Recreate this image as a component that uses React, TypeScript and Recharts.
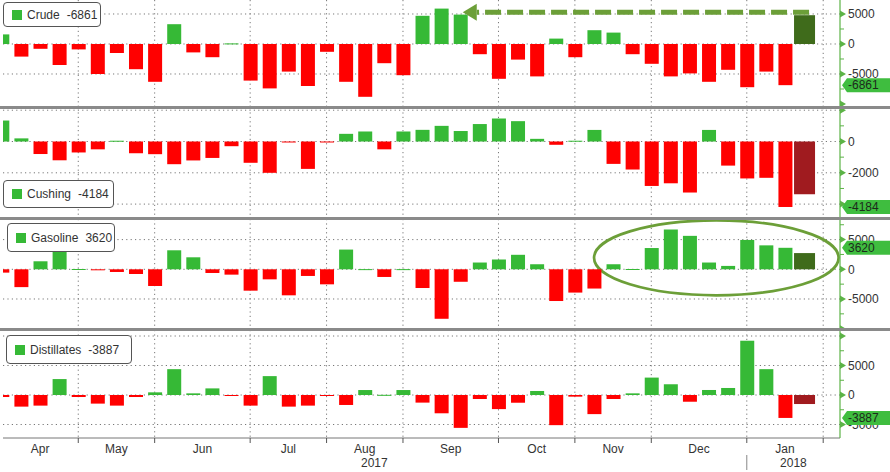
import React from "react";
import {
  BarChart,
  Bar,
  XAxis,
  YAxis,
  CartesianGrid,
  ReferenceLine,
  ReferenceArea,
} from "recharts";

// ---------------- data (weekly change, thousand barrels) ----------------
const crude = [
  1600, -2100, -800, -3500, -900, -5000, -1500, -4200, -6300, 3300, -1400, -2200, 100, -6100,
  -7400, -4600, -7000, -1300, -6300, -8800, -3200, -5200, 4700, 5900, 4900, -1700, -5800,
  -2600, -5400, 900, -2200, 2300, 1900, -1700, -3300, -5400, -4900, -6300, -4300, -7200,
  -4600, -6861,
];
const crudeLatest = 4800;

const cushing = [
  1340, 200, -800, -1200, -700, -500, 50, -750, -810, -1450, -1210, -1050, -300, -1360, -2000,
  -50, -1750, -50, 490, 640, -500, 640, 745, 1000, 670, 1115, 1470, 1300, 170, -210, 50, 740,
  -1430, -1790, -2840, -2670, -3260, 740, -1540, -2360, -2320, -4184,
];
const cushingLatest = -3370;

const gasoline = [
  -560, -3000, 1350, 3000, 50, -100, -450, -790, -2810, 3200, 2020, -620, -900, -3600, -1690,
  -4380, -1120, -2530, 3320, 30, -1290, 30, -3150, -8330, -2100, 1140, 1650, 2440, 850, -5340,
  -3920, -3240, 850, 50, 3580, 6700, 5630, 1140, 570, 4940, 4030, 3620,
];
const gasolineLatest = 2730;

const distillates = [
  -340, -1970, -1800, 2700, -340, -1460, -1800, -340, 450, 4380, 280, 1120, -50, -1800, 3200,
  -1970, -1800, -50, -1690, 840, 30, 840, -1290, -3100, -5570, -680, -2390, -1310, 680, -5110,
  -280, -3240, -680, 280, 2950, 1820, -1140, 850, 1190, 9200, 4380, -3887,
];
const distillatesLatest = -1530;

// x axis: week index where each month / year begins
const monthLabels = ["Apr", "May", "Jun", "Jul", "Aug", "Sep", "Oct", "Nov", "Dec", "Jan"];
const monthBoundaries = [0, 4, 8, 13, 17, 21, 26, 30, 34, 39, 43];
const yearLabels = ["2017", "2018"];
const yearStarts = [0, 39];

// ---------------- styling ----------------
const GREEN = "#36b936";
const RED = "#ff0000";
const DARK_GREEN = "#3f6b1b";
const DARK_RED = "#a01b1f";
const AXIS_GREEN = "#5cb346";
const TAG_GREEN = "#3fbd3f";
const ANNOT_GREEN = "#6c9f38";
const X_DOMAIN: [number, number] = [0.06, 43.88];

type Row = { i: number; v: number; latest: boolean };
const buildRows = (hist: number[], latest: number): Row[] => [
  ...hist.map((v, i) => ({ i, v, latest: false })),
  { i: hist.length, v: latest, latest: true },
];

const gridBoundaries = monthBoundaries.slice(1);
const monthMids = monthLabels.map((_, k) => (monthBoundaries[k] + monthBoundaries[k + 1]) / 2);
const yearMids = yearLabels.map((_, k) =>
  (yearStarts[k] + (k + 1 < yearStarts.length ? yearStarts[k + 1] : X_DOMAIN[1])) / 2
);

const BarShape = (p: any) => {
  const { x, y, width, height, payload } = p;
  if (x == null || y == null) return null;
  const v = payload.v;
  const fill = payload.latest ? (v >= 0 ? DARK_GREEN : DARK_RED) : v >= 0 ? GREEN : RED;
  const w = payload.latest ? width * 1.5 : width;
  const top = Math.min(y, y + height);
  const h = Math.max(Math.abs(height), 1);
  return <rect x={x + width / 2 - w / 2} y={top} width={w} height={h} fill={fill} />;
};

// y-axis tick: triangle + label for majors, short line for minors, value tag for the latest reading
const makeYTick = (labeled: number[], minor: number[], tagValue: number) => (props: any) => {
  const { x, y, payload, index } = props;
  const v = payload.value;
  if (v === tagValue && index === props.visibleTicksCount - 1) {
    return (
      <g>
        <path
          d={`M${x + 2},${y} L${x + 7},${y - 7} H${x + 52} V${y + 7} H${x + 7} Z`}
          fill={TAG_GREEN}
        />
        <text x={x + 8} y={y} dy="0.36em" fontSize={12} fill="#1c2a1c">
          {String(v)}
        </text>
      </g>
    );
  }
  if (minor.includes(v)) {
    return <line x1={x} x2={x + 4} y1={y} y2={y} stroke={AXIS_GREEN} strokeWidth={1} />;
  }
  return (
    <g>
      <path d={`M${x},${y - 3.5} L${x + 6},${y} L${x},${y + 3.5} Z`} fill={AXIS_GREEN} />
      {labeled.includes(v) && (
        <text x={x + 8} y={y} dy="0.36em" fontSize={12} fill="#333">
          {String(v)}
        </text>
      )}
    </g>
  );
};

const XTick = (props: any) => {
  const { x, y, payload } = props;
  const v = payload.value;
  const mi = monthMids.indexOf(v);
  if (mi >= 0) {
    return (
      <text x={x} y={y + 11} dy="0.36em" textAnchor="middle" fontSize={12} fill="#333">
        {monthLabels[mi]}
      </text>
    );
  }
  const yi = yearMids.indexOf(v);
  if (yi >= 0) {
    return (
      <text x={x} y={y + 25} dy="0.36em" textAnchor="middle" fontSize={12} fill="#333">
        {yearLabels[yi]}
      </text>
    );
  }
  const isYear = yearStarts.includes(v);
  return (
    <g>
      <line x1={x} x2={x} y1={y} y2={y + 5} stroke="#555" />
      {isYear && <line x1={x} x2={x} y1={y + 17} y2={y + 32} stroke="#888" />}
    </g>
  );
};

const ArrowShape = (p: any) => {
  const { x1, y1, x2, y2 } = p;
  if (x1 == null) return null;
  const head = 14;
  return (
    <g>
      <path
        d={`M${x1},${y1} L${x2 + head},${y2}`}
        stroke={ANNOT_GREEN}
        strokeWidth={5}
        strokeDasharray="16 6"
        fill="none"
      />
      <path
        d={`M${x2},${y2} L${x2 + head},${y2 - 8.5} L${x2 + head},${y2 + 8.5} Z`}
        fill={ANNOT_GREEN}
      />
    </g>
  );
};

const EllipseShape = (p: any) => {
  const { x, y, width, height } = p;
  if (x == null) return null;
  return (
    <ellipse
      cx={x + width / 2}
      cy={y + height / 2}
      rx={width / 2 - 1.4}
      ry={height / 2 - 1.4}
      fill="none"
      stroke={ANNOT_GREEN}
      strokeWidth={2.7}
    />
  );
};

type Panel = {
  name: string;
  hist: number[];
  latest: number;
  top: number;
  plotH: number;
  domain: [number, number];
  majors: number[];
  labeled: number[];
  minors: number[];
  grid: number[];
  legend: { left: number; top: number; width: number; height: number };
};

const panels: Panel[] = [
  {
    name: "Crude",
    hist: crude,
    latest: crudeLatest,
    top: 0,
    plotH: 107,
    domain: [-10500, 7333],
    majors: [5000, 0, -5000, -10000],
    labeled: [5000, 0, -5000],
    minors: [2500, -2500, -7500],
    grid: [5000, 0, -5000],
    legend: { left: 3, top: 2, width: 98, height: 25 },
  },
  {
    name: "Cushing",
    hist: cushing,
    latest: cushingLatest,
    top: 108,
    plotH: 110,
    domain: [-4888, 2141],
    majors: [2000, 0, -2000, -4000],
    labeled: [0, -2000],
    minors: [1000, -1000, -3000],
    grid: [2000, 0, -2000, -4000],
    legend: { left: 3, top: 180, width: 111, height: 28 },
  },
  {
    name: "Gasoline",
    hist: gasoline,
    latest: gasolineLatest,
    top: 219,
    plotH: 110,
    domain: [-10051, 8468],
    majors: [5000, 0, -5000, -10000],
    labeled: [5000, 0, -5000],
    minors: [7500, 2500, -2500, -7500],
    grid: [5000, 0, -5000],
    legend: { left: 7, top: 223, width: 108, height: 29 },
  },
  {
    name: "Distillates",
    hist: distillates,
    latest: distillatesLatest,
    top: 330,
    plotH: 108,
    domain: [-7288, 11017],
    majors: [10000, 5000, 0, -5000],
    labeled: [5000, 0, -5000],
    minors: [7500, 2500, -2500],
    grid: [10000, 5000, 0, -5000],
    legend: { left: 6, top: 335, width: 126, height: 29 },
  },
];

const xTicks = [...gridBoundaries, ...monthMids, ...yearMids];

function PanelChart({ panel, last }: { panel: Panel; last: boolean }) {
  const rows = buildRows(panel.hist, panel.latest);
  const lastValue = panel.hist[panel.hist.length - 1];
  const axisH = last ? 34 : 0;
  return (
    <div style={{ position: "absolute", left: 0, top: panel.top }}>
      <BarChart
        width={890}
        height={panel.plotH + axisH}
        data={rows}
        margin={{ top: 0, right: 0, bottom: 0, left: 3 }}
      >
        <CartesianGrid
          stroke="#777"
          strokeDasharray="1.2 3.2"
          horizontalValues={panel.grid}
          verticalValues={gridBoundaries}
        />
        <XAxis
          type="number"
          dataKey="i"
          domain={X_DOMAIN}
          allowDataOverflow
          hide={!last}
          height={axisH}
          ticks={xTicks}
          interval={0}
          tick={<XTick />}
          tickLine={false}
          tickSize={0}
          tickMargin={0}
          axisLine={{ stroke: "#777" }}
        />
        <YAxis
          type="number"
          orientation="right"
          width={50}
          domain={panel.domain}
          allowDataOverflow
          ticks={[...panel.majors, ...panel.minors, lastValue]}
          interval={0}
          tick={makeYTick(panel.labeled, panel.minors, lastValue)}
          tickLine={false}
          tickSize={0}
          tickMargin={0}
          axisLine={{ stroke: AXIS_GREEN, strokeWidth: 1.2 }}
        />
        <Bar dataKey="v" barSize={14} isAnimationActive={false} shape={BarShape} />
        {panel.name === "Crude" && (
          <ReferenceLine
            segment={[
              { x: 42.26, y: 5283 },
              { x: 24.13, y: 5283 },
            ]}
            shape={ArrowShape}
          />
        )}
        {panel.name === "Gasoline" && (
          <ReferenceArea x1={30.93} x2={43.88} y1={-4613} y2={8468} shape={EllipseShape} />
        )}
      </BarChart>
    </div>
  );
}

function LegendBox({ panel }: { panel: Panel }) {
  const lastValue = panel.hist[panel.hist.length - 1];
  const l = panel.legend;
  return (
    <div
      style={{
        position: "absolute",
        left: l.left,
        top: l.top,
        width: l.width,
        height: l.height,
        boxSizing: "border-box",
        border: "1px solid #555",
        borderRadius: 4,
        background: "#fff",
        display: "flex",
        alignItems: "center",
        paddingLeft: 8,
        fontSize: 12,
        color: "#333",
        whiteSpace: "nowrap",
        zIndex: 5,
      }}
    >
      <span style={{ display: "inline-block", width: 10, height: 10, background: GREEN, marginRight: 5 }} />
      <span>{panel.name}</span>
      <span style={{ marginLeft: 7 }}>{String(lastValue)}</span>
    </div>
  );
}

export default function App() {
  return (
    <div
      style={{
        position: "absolute",
        left: 0,
        top: 0,
        width: 890,
        height: 472,
        background: "#fff",
        overflow: "hidden",
        fontFamily: '"Liberation Sans", Arial, sans-serif',
      }}
    >
      {panels.map((p, k) => (
        <PanelChart key={p.name} panel={p} last={k === panels.length - 1} />
      ))}
      {[107, 218, 329].map((y) => (
        <div
          key={y}
          style={{ position: "absolute", left: 0, top: y - 1.5, width: 890, height: 3, background: "#8a8a8a", zIndex: 4 }}
        />
      ))}
      {panels.map((p) => (
        <LegendBox key={p.name + "-legend"} panel={p} />
      ))}
    </div>
  );
}
